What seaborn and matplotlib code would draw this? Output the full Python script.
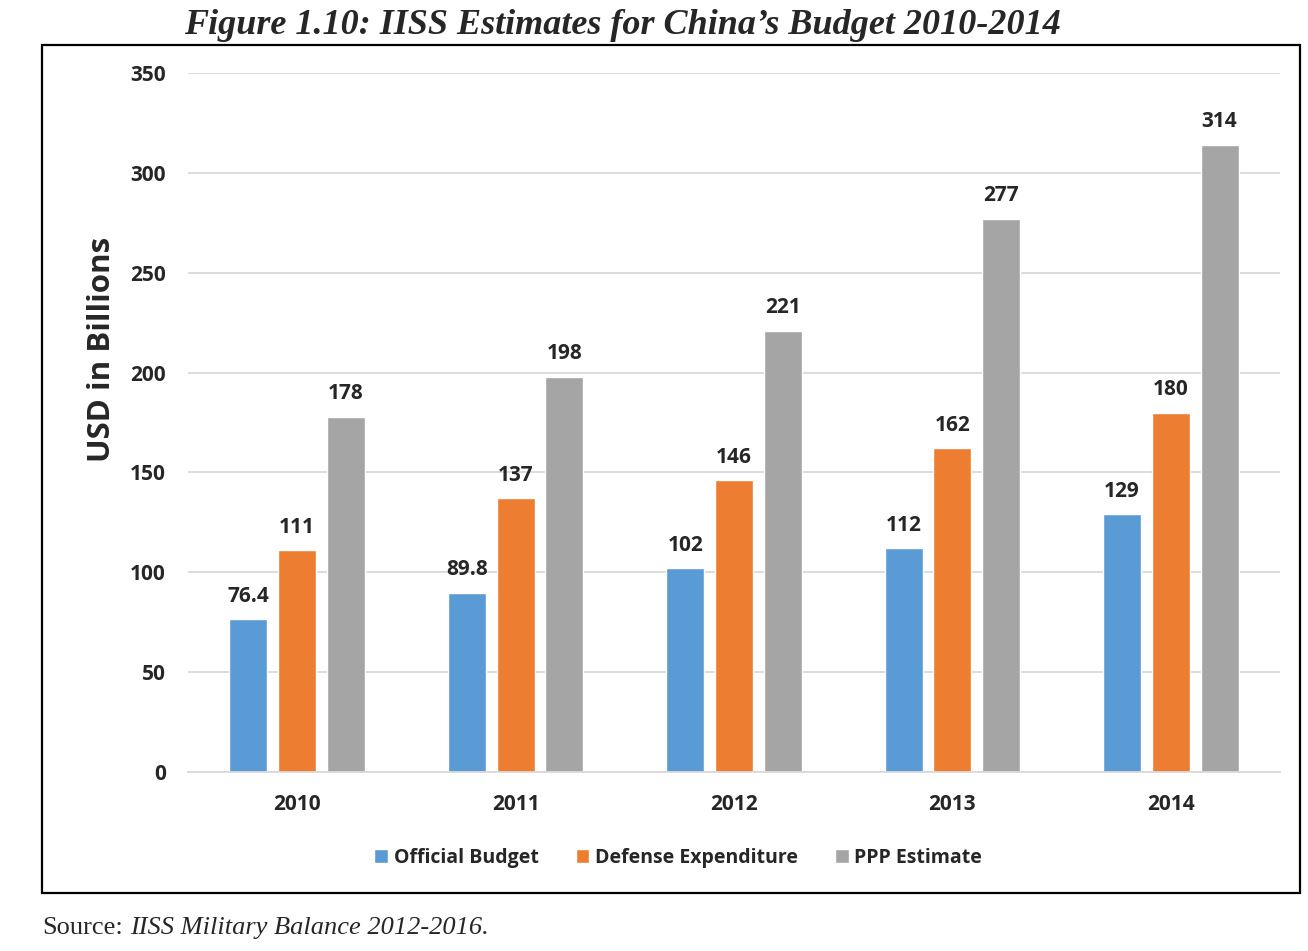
import pandas as pd
import matplotlib.pyplot as plt
import seaborn as sns
from matplotlib.patches import Rectangle

years = ["2010", "2011", "2012", "2013", "2014"]
official_budget = [76.4, 89.8, 102, 112, 129]
defense_expenditure = [111, 137, 146, 162, 180]
ppp_estimate = [178, 198, 221, 277, 314]
series_names = ["Official Budget", "Defense Expenditure", "PPP Estimate"]
bar_labels = [["76.4", "89.8", "102", "112", "129"],
              ["111", "137", "146", "162", "180"],
              ["178", "198", "221", "277", "314"]]

df = pd.DataFrame({
    "year": years * 3,
    "series": [series_names[0]] * 5 + [series_names[1]] * 5 + [series_names[2]] * 5,
    "value": official_budget + defense_expenditure + ppp_estimate,
})

sns.set_theme(style="white")
plt.rcParams["font.family"] = ["Open Sans", "DejaVu Sans"]

fig = plt.figure(figsize=(13.08, 9.51), dpi=100)
ax = fig.add_axes([0.1437, 0.1882, 0.8349, 0.735])

palette = ["#5B9BD5", "#ED7D31", "#A5A5A5"]
sns.barplot(data=df, x="year", y="value", hue="series", palette=palette,
            width=0.67, gap=0.22, saturation=1, ax=ax, legend=True)

# value labels above bars
for cont, labels in zip(ax.containers, bar_labels):
    ax.bar_label(cont, labels=labels, padding=9, fontsize=15, fontweight="bold")

ax.set_ylim(0, 350)
ax.set_xlim(-0.5, 4.5)
ax.set_yticks(range(0, 351, 50))
ax.yaxis.grid(True, color="#D9D9D9", linewidth=1.3)
ax.set_axisbelow(True)
for s in ["top", "right", "left"]:
    ax.spines[s].set_visible(False)
ax.spines["bottom"].set_color("#D9D9D9")
ax.spines["bottom"].set_linewidth(1.3)
ax.tick_params(axis="y", labelsize=15, pad=16, length=0)
ax.tick_params(axis="x", labelsize=15, pad=16, length=0)
for t in ax.get_xticklabels() + ax.get_yticklabels():
    t.set_fontweight("bold")
ax.set_xlabel("")
ax.set_ylabel("USD in Billions", fontsize=22.5, fontweight="bold")
ax.yaxis.set_label_coords(-0.065, 0.604)

ax.legend(loc="upper center", bbox_to_anchor=(0.449, -0.083), ncol=3, frameon=False,
          prop={"size": 14, "weight": "bold"}, handlelength=0.7, handleheight=0.7,
          handletextpad=0.3, columnspacing=1.9)

fig.patches.append(Rectangle((42 / 1308, 1 - 893 / 951), (1300 - 42) / 1308, (893 - 45) / 951,
                             transform=fig.transFigure, fill=False, edgecolor="black",
                             linewidth=1.6))

fig.text(0.476, 1 - 25 / 951, "Figure 1.10: IISS Estimates for China\u2019s Budget 2010-2014",
         ha="center", va="center", fontsize=26, fontweight="bold", fontstyle="italic",
         family="Liberation Serif")
fig.text(42 / 1308, 1 - 928 / 951, "Source:", ha="left", va="center", fontsize=19,
         family="Liberation Serif")
fig.text(130 / 1308, 1 - 928 / 951, "IISS Military Balance 2012-2016.", ha="left",
         va="center", fontsize=19, fontstyle="italic", family="Liberation Serif")

plt.savefig("out.png", dpi=100)
